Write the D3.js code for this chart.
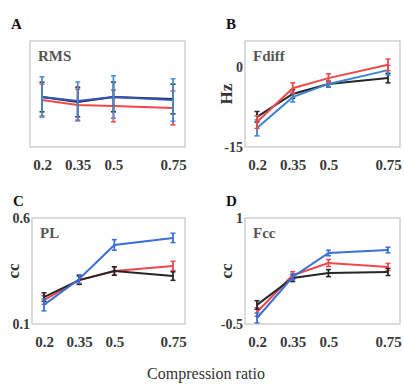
<!DOCTYPE html>
<html>
<head>
<meta charset="utf-8">
<script src="https://cdn.jsdelivr.net/npm/d3@7"></script>
<style>
  body { margin: 0; background: #fff; }
</style>
</head>
<body>
<script>
// compression ratios on the x axis
const ratios = [0.2, 0.35, 0.5, 0.75]
const ratioLabels = ['0.2', '0.35', '0.5', '0.75']

// A - RMS (no y labels in the figure, relative units)
const rmsBlack = [0.472, 0.425, 0.472, 0.453]
const rmsRed = [0.443, 0.396, 0.387, 0.368]
const rmsBlue = [0.472, 0.434, 0.472, 0.443]
const rmsBlackErr = [0.14, 0.14, 0.14, 0.14]
const rmsRedErr = [0.15, 0.15, 0.15, 0.16]
const rmsBlueErr = [0.19, 0.18, 0.2, 0.2]

// B - Fdiff (Hz)
const fdiffBlack = [-9.3, -5.0, -3.1, -2.0]
const fdiffRed = [-10.3, -3.9, -2.0, 0.5]
const fdiffBlue = [-11.4, -5.6, -3.1, -0.5]
const fdiffBlackErr = [1.0, 0.8, 0.6, 0.9]
const fdiffRedErr = [1.2, 1.0, 0.8, 1.1]
const fdiffBlueErr = [1.5, 0.9, 0.6, 0.9]

// C - PL (cc)
const plBlack = [0.227, 0.307, 0.35, 0.326]
const plRed = [0.213, 0.307, 0.35, 0.374]
const plBlue = [0.19, 0.312, 0.473, 0.506]
const plBlackErr = [0.02, 0.02, 0.02, 0.02]
const plRedErr = [0.02, 0.02, 0.02, 0.022]
const plBlueErr = [0.028, 0.02, 0.025, 0.022]

// D - Fcc (cc)
const fccBlack = [-0.23, 0.15, 0.22, 0.236]
const fccRed = [-0.33, 0.19, 0.363, 0.307]
const fccBlue = [-0.415, 0.165, 0.505, 0.547]
const fccBlackErr = [0.06, 0.05, 0.05, 0.05]
const fccRedErr = [0.06, 0.05, 0.05, 0.05]
const fccBlueErr = [0.07, 0.04, 0.04, 0.04]

const colors = { black: '#262626', red: '#f0484a', blue: '#3c6fd6' }
const serif = 'Liberation Serif'

var svg = d3.select('body')
    .append('svg')
    .attr('width', 404)
    .attr('height', 385)

function makePanel(opts) {
    var x = d3.scaleLinear()
        .domain([0.2, 0.75])
        .range([opts.left + 12, opts.right - 12])
    var y = d3.scaleLinear()
        .domain(opts.domain)
        .range([opts.bottom, opts.top])

    var g = svg.append('g')

    g.append('rect') // frame
        .attr('x', opts.left)
        .attr('y', opts.top)
        .attr('width', opts.right - opts.left)
        .attr('height', opts.bottom - opts.top)
        .attr('fill', 'none')
        .attr('stroke', '#c4c4c4')
        .attr('stroke-width', 1.2)

    var xAxis = g.append('g')
        .attr('transform', 'translate(0,' + (opts.bottom + 9) + ')')
        .call(d3.axisBottom(x).tickValues(ratios).tickSize(0)
            .tickFormat((d, i) => ratioLabels[i]))
    xAxis.select('.domain').remove()
    xAxis.selectAll('text')
        .attr('font-family', serif)
        .attr('font-size', 15)
        .attr('font-weight', 'bold')
        .attr('fill', '#3a3a3a')

    if (opts.yTicks) {
        var yAxis = g.append('g')
            .attr('transform', 'translate(' + (opts.left - 1) + ',0)')
            .call(d3.axisLeft(y).tickValues(opts.yTicks).tickSize(0)
                .tickFormat(d => String(d)))
        yAxis.select('.domain').remove()
        yAxis.selectAll('text')
            .attr('font-family', serif)
            .attr('font-size', 14)
            .attr('font-weight', 'bold')
            .attr('fill', '#3a3a3a')
            .attr('dx', 2)
    }

    if (opts.yTitle) {
        g.append('text')
            .attr('transform', 'translate(' + (opts.left - 13) + ',' + ((opts.top + opts.bottom) / 2) + ') rotate(-90)')
            .attr('text-anchor', 'middle')
            .attr('font-family', serif)
            .attr('font-size', 17)
            .attr('font-weight', 'bold')
            .attr('fill', '#333')
            .text(opts.yTitle)
    }

    g.append('text') // panel letter
        .attr('x', opts.left - 19)
        .attr('y', opts.top - 12)
        .attr('font-family', serif)
        .attr('font-size', 15)
        .attr('font-weight', 'bold')
        .attr('fill', '#111')
        .text(opts.letter)

    g.append('text') // inner name
        .attr('x', opts.left + 8)
        .attr('y', opts.top + 20)
        .attr('font-family', serif)
        .attr('font-size', 15)
        .attr('font-weight', 'bold')
        .attr('fill', '#555')
        .text(opts.name)

    var line = d3.line()
        .x((d, i) => x(ratios[i]))
        .y(d => y(d))

    opts.series.forEach(function (s) {
        var sg = g.append('g')
        sg.append('path')
            .datum(s.values)
            .attr('d', line)
            .attr('fill', 'none')
            .attr('stroke', s.color)
            .attr('stroke-width', 2)

        var bars = sg.selectAll('.err')
            .data(s.values)
            .enter()
            .append('g')
        bars.append('line')
            .attr('x1', (d, i) => x(ratios[i]))
            .attr('x2', (d, i) => x(ratios[i]))
            .attr('y1', (d, i) => y(d - s.err[i]))
            .attr('y2', (d, i) => y(d + s.err[i]))
            .attr('stroke', s.barColor || s.color)
            .attr('stroke-width', 1.8)
        ;[-1, 1].forEach(function (k) {
            bars.append('line')
                .attr('x1', (d, i) => x(ratios[i]) - 2.5)
                .attr('x2', (d, i) => x(ratios[i]) + 2.5)
                .attr('y1', (d, i) => y(d + k * s.err[i]))
                .attr('y2', (d, i) => y(d + k * s.err[i]))
                .attr('stroke', s.barColor || s.color)
                .attr('stroke-width', 1.5)
        })
    })
}

makePanel({
    letter: 'A', name: 'RMS', left: 30, right: 185, top: 41, bottom: 147,
    domain: [0, 1],
    series: [
        { values: rmsRed, err: rmsRedErr, color: colors.red },
        { values: rmsBlack, err: rmsBlackErr, color: colors.black },
        { values: rmsBlue, err: rmsBlueErr, color: '#2f56b8', barColor: '#4a8fd4' }
    ]
})

makePanel({
    letter: 'B', name: 'Fdiff', left: 245, right: 400, top: 41, bottom: 147,
    domain: [-15, 5], yTicks: [-15, 0], yTitle: 'Hz',
    series: [
        { values: fdiffBlack, err: fdiffBlackErr, color: colors.black },
        { values: fdiffBlue, err: fdiffBlueErr, color: '#3a86d0' },
        { values: fdiffRed, err: fdiffRedErr, color: colors.red }
    ]
})

makePanel({
    letter: 'C', name: 'PL', left: 32, right: 185, top: 218, bottom: 324,
    domain: [0.1, 0.6], yTicks: [0.1, 0.6], yTitle: 'cc',
    series: [
        { values: plRed, err: plRedErr, color: colors.red },
        { values: plBlack, err: plBlackErr, color: colors.black },
        { values: plBlue, err: plBlueErr, color: colors.blue }
    ]
})

makePanel({
    letter: 'D', name: 'Fcc', left: 245, right: 400, top: 218, bottom: 324,
    domain: [-0.5, 1], yTicks: [-0.5, 1], yTitle: 'cc',
    series: [
        { values: fccRed, err: fccRedErr, color: colors.red },
        { values: fccBlack, err: fccBlackErr, color: colors.black },
        { values: fccBlue, err: fccBlueErr, color: colors.blue }
    ]
})

svg.append('text')
    .attr('x', 206)
    .attr('y', 379)
    .attr('text-anchor', 'middle')
    .attr('font-family', serif)
    .attr('font-size', 16)
    .attr('fill', '#333')
    .text('Compression ratio')
</script>
</body>
</html>
